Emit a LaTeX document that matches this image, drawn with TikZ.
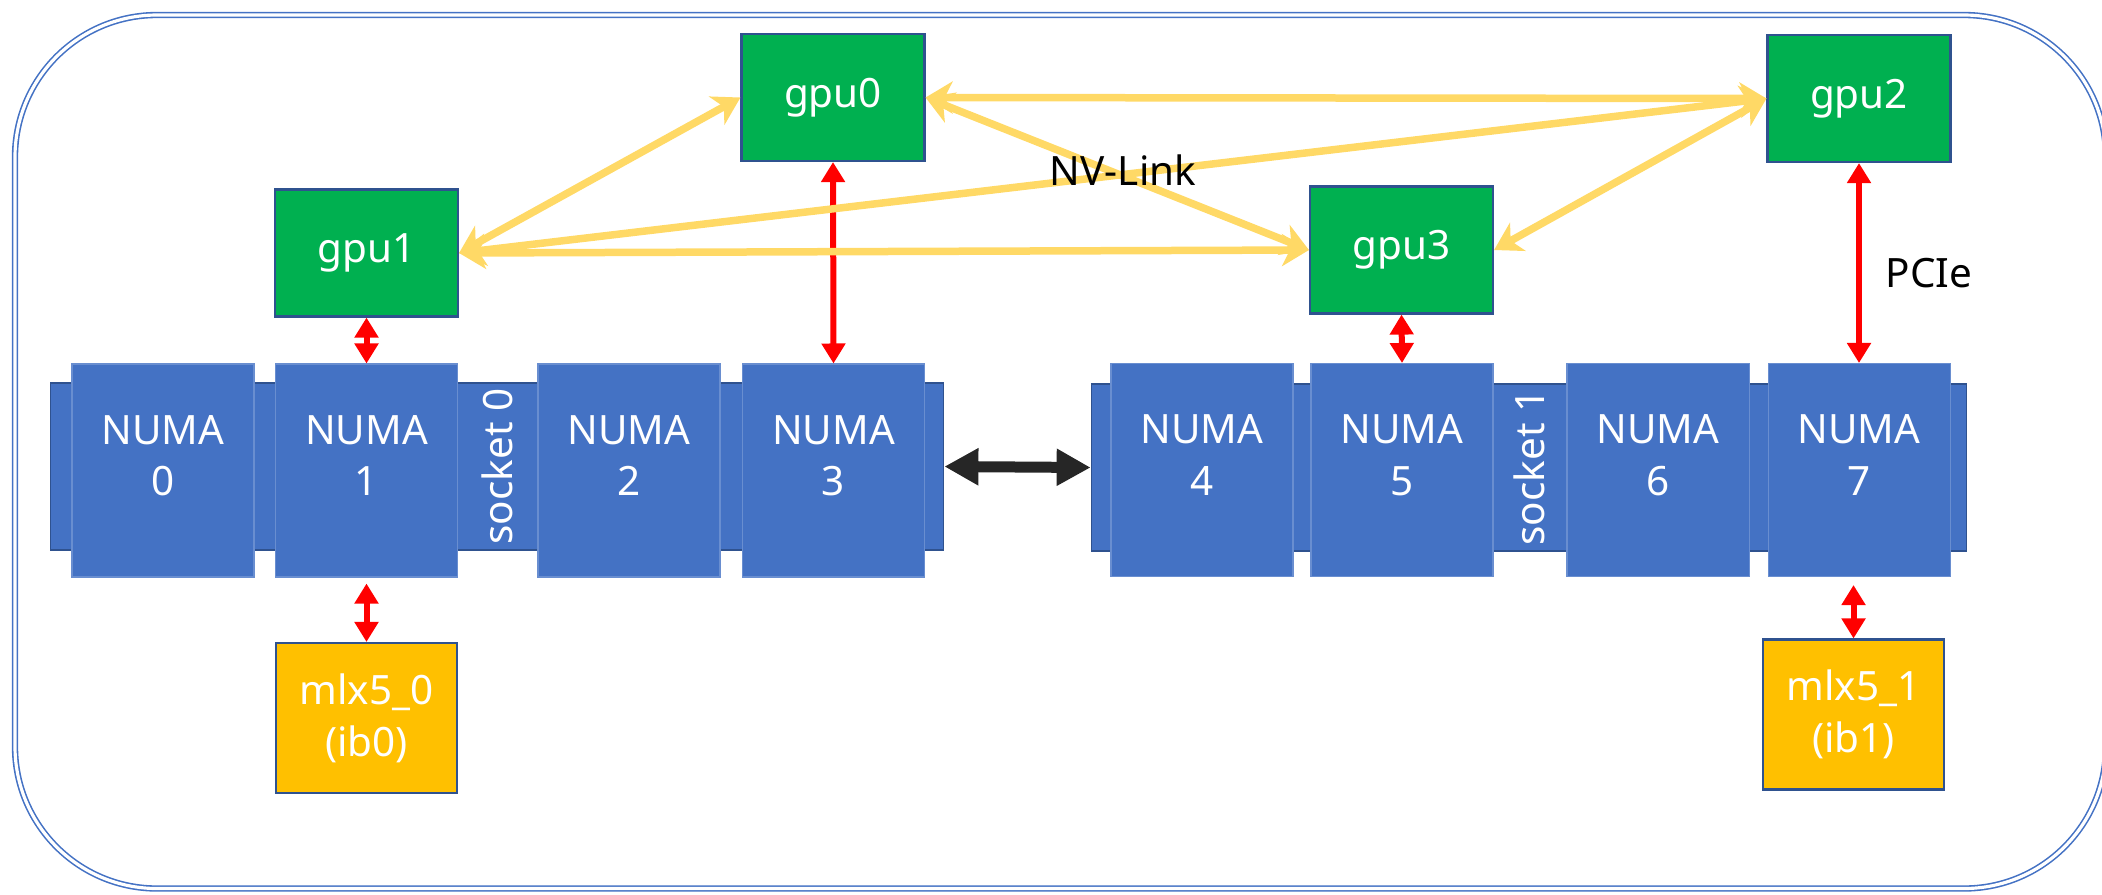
\documentclass[tikz,border=0pt]{standalone}
\usepackage{fontspec}
\setmainfont{Noto Sans}
\usetikzlibrary{arrows.meta,positioning}

\definecolor{numablue}{HTML}{4472C4}
\definecolor{edgeblue}{HTML}{2F528F}
\definecolor{gpugreen}{HTML}{00B050}
\definecolor{nicgold}{HTML}{FFC000}
\definecolor{nvyellow}{HTML}{FFD966}
\definecolor{upiblack}{HTML}{262626}

\newcommand\diagfont{\fontsize{11.5}{14.7}\selectfont}

\begin{document}
\begin{tikzpicture}[
  % Node styles
  frame/.style={draw=numablue, double=white, double distance=0.9pt,
    line width=0.45pt, rounded corners=1.42cm},
  socketbox/.style={rectangle, draw=edgeblue, fill=numablue, line width=0.5pt,
    minimum height=1.67cm, inner sep=0pt},
  numabox/.style={rectangle, fill=numablue, draw=numablue!80!white, line width=0.3pt,
    minimum width=1.82cm, minimum height=2.13cm, align=center, text=white,
    font=\diagfont},
  gpubox/.style={rectangle, fill=gpugreen, draw=edgeblue, line width=0.6pt,
    minimum width=1.83cm, minimum height=1.27cm, text=white, font=\diagfont},
  nicbox/.style={rectangle, fill=nicgold, draw=edgeblue, line width=0.6pt,
    minimum width=1.81cm, minimum height=1.50cm, align=center, text=white,
    font=\diagfont},
  socketlbl/.style={rotate=90, text=white, font=\diagfont},
  lbl/.style={text=black, font=\diagfont},
  nvarr/.style={{Stealth[length=0.27cm,width=0.32cm,inset=0.08cm]}-{Stealth[length=0.27cm,width=0.32cm,inset=0.08cm]},
    draw=nvyellow, line width=0.075cm},
  pciearr/.style={{Triangle[length=0.2cm,width=0.23cm]}-{Triangle[length=0.2cm,width=0.23cm]},
    draw=red, line width=0.06cm},
  upiarr/.style={{Triangle[length=0.34cm,width=0.35cm]}-{Triangle[length=0.34cm,width=0.35cm]},
    draw=upiblack, line width=0.11cm},
]

\useasboundingbox (0,0) rectangle (21.02,-8.94);

% === Outer frame ===
\draw[frame] (0.15,-0.15) rectangle (21.06,-8.885);

% === Sockets ===
\node[socketbox, minimum width=8.93cm] (s0) at (4.97,-4.665) {};
\node[socketbox, minimum width=8.75cm] (s1) at (15.29,-4.675) {};

% === NUMA nodes, socket 0 ===
\node[numabox] (n0) at (1.63,-4.705) {NUMA\\0\rule[-0.3cm]{0pt}{0pt}};
\node[numabox] (n1) at (3.665,-4.705) {NUMA\\1\rule[-0.3cm]{0pt}{0pt}};
\node[numabox] (n2) at (6.29,-4.705) {NUMA\\2\rule[-0.3cm]{0pt}{0pt}};
\node[numabox] (n3) at (8.335,-4.705) {NUMA\\3\rule[-0.3cm]{0pt}{0pt}};

% === NUMA nodes, socket 1 ===
\node[numabox] (n4) at (12.02,-4.70) {NUMA\\4\rule[-0.3cm]{0pt}{0pt}};
\node[numabox] (n5) at (14.02,-4.70) {NUMA\\5\rule[-0.3cm]{0pt}{0pt}};
\node[numabox] (n6) at (16.58,-4.70) {NUMA\\6\rule[-0.3cm]{0pt}{0pt}};
\node[numabox] (n7) at (18.59,-4.70) {NUMA\\7\rule[-0.3cm]{0pt}{0pt}};

% Socket labels
\node[socketlbl] (s0lbl) at (s0.center) {socket 0};
\node[socketlbl] (s1lbl) at (s1.center) {socket 1};

% === GPUs ===
\node[gpubox] (gpu0) at (8.33,-0.975) {gpu0};
\node[gpubox] (gpu1) at (3.665,-2.53) {gpu1};
\node[gpubox] (gpu2) at (18.59,-0.985) {gpu2};
\node[gpubox] (gpu3) at (14.015,-2.50) {gpu3};

% === InfiniBand adapters ===
\node[nicbox] (mlx0) at (3.665,-7.18) {mlx5\_0\\(ib0)};
\node[nicbox] (mlx1) at (18.535,-7.145) {mlx5\_1\\(ib1)};

% === Socket interconnect ===
\draw[upiarr] (s0.east) -- (s1.west);

% === PCIe links ===
\draw[pciearr] (gpu1.south) -- (n1.north);
\draw[pciearr] (gpu0.south) -- (n3.north);
\draw[pciearr] (gpu3.south) -- (n5.north);
\draw[pciearr] (gpu2.south) -- node[lbl, pos=0.55, right=0.12cm] (pcie) {PCIe} (n7.north);
\draw[pciearr, shorten <=0.06cm] (n1.south) -- (mlx0.north);
\draw[pciearr, shorten <=0.08cm] (mlx1.north |- n7.south) -- (mlx1.north);

% === NV-Link mesh ===
\draw[nvarr] (gpu1.east) -- (gpu0.west);
\draw[nvarr] (gpu0.east) -- (gpu2.west);
\draw[nvarr] (gpu0.east) -- (gpu3.west);
\draw[nvarr] (gpu1.east) -- (gpu2.west);
\draw[nvarr] (gpu1.east) -- (gpu3.west);
\draw[nvarr] (gpu3.east) -- (gpu2.west);

\node[lbl] (nvlbl) at (11.23,-1.70) {NV-Link};

\end{tikzpicture}
\end{document}
